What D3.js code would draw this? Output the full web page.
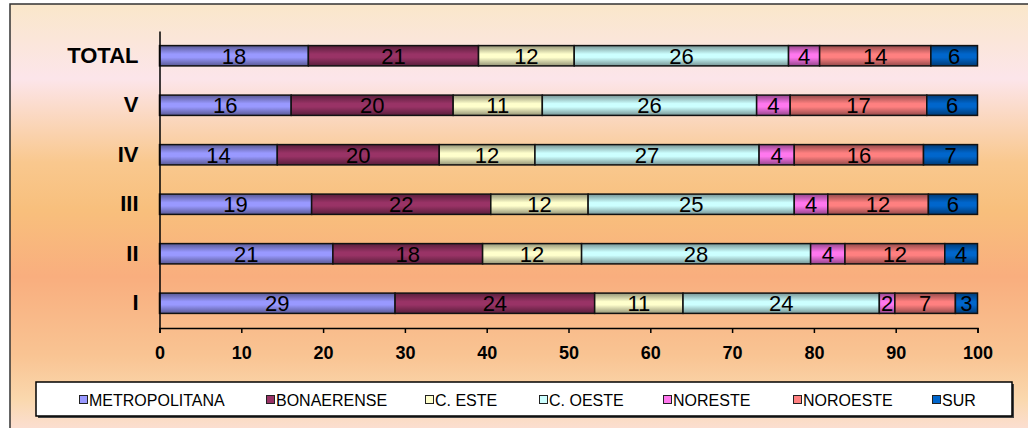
<!DOCTYPE html>
<html><head><meta charset="utf-8">
<script src="https://cdn.jsdelivr.net/npm/d3@7"></script>
<style>html,body{margin:0;padding:0;background:#fff;}svg{display:block;}</style>
</head><body>
<svg id="chart" width="1028" height="428"></svg>
<script>
const categories = ["TOTAL","V","IV","III","II","I"];
const seriesNames = ["METROPOLITANA","BONAERENSE","C. ESTE","C. OESTE","NORESTE","NOROESTE","SUR"];
const seriesColors = ["#9999FF","#993366","#FFFFCC","#CCFFFF","#FF77EE","#FF8080","#0066CC"];
const metropolitana = [18.2,16.1,14.4,18.6,21.2,28.8];
const bonaerense    = [20.8,19.8,19.8,21.9,18.3,24.4];
const cEste         = [11.7,10.9,11.7,11.9,12.1,10.8];
const cOeste        = [26.2,26.2,27.4,25.2,28.0,24.0];
const noreste       = [3.8,4.1,4.3,4.1,4.2,1.9];
const noroeste      = [13.6,16.7,15.8,12.3,12.2,7.4];
const sur           = [5.7,6.2,6.6,6.0,4.0,2.7];
const xTicks = [0,10,20,30,40,50,60,70,80,90,100];

const seriesValues = [metropolitana,bonaerense,cEste,cOeste,noreste,noroeste,sur];
const rows = categories.map((c,i)=>{const o={cat:c}; seriesNames.forEach((s,j)=>o[s]=seriesValues[j][i]); return o;});
const stacked = d3.stack().keys(seriesNames)(rows);

const svg = d3.select("#chart");
const defs = svg.append("defs");

// background gradient
const bg = defs.append("linearGradient").attr("id","bg").attr("x1",0).attr("y1",0).attr("x2",0).attr("y2",1);
[[0,"#FAE7CA"],[0.17,"#FCE5EA"],[0.36,"#F9C88E"],[0.47,"#F8BF7C"],[0.62,"#F9AE7E"],[0.8,"#F9C493"],[0.9,"#FAD8AE"],[1,"#FCE2E4"]]
  .forEach(([o,c])=>bg.append("stop").attr("offset",o).attr("stop-color",c));

seriesColors.forEach((c,i)=>{
  const g = defs.append("linearGradient").attr("id","g"+i).attr("x1",0).attr("y1",0).attr("x2",0).attr("y2",1);
  const dark = d3.interpolateRgb(c,"#000")(0.42);
  [[0,dark],[0.42,c],[0.58,c],[1,dark]].forEach(([o,col])=>g.append("stop").attr("offset",o).attr("stop-color",col));
});

svg.append("rect").attr("x",10).attr("y",4).attr("width",1030).attr("height",440)
  .attr("fill","url(#bg)").attr("stroke","#333").attr("stroke-width",1.5);

const x = d3.scaleLinear().domain([0,100]).range([159.5,977.5]);
const y = d3.scaleBand().domain(categories).range([31,328]).paddingInner(0.59).paddingOuter(0.295);

// bars
const layer = svg.append("g").selectAll("g").data(stacked).join("g")
  .attr("fill",(d,i)=>`url(#g${i})`);
layer.selectAll("rect").data(d=>d).join("rect")
  .attr("x",d=>x(d[0])).attr("y",d=>y(d.data.cat))
  .attr("width",d=>x(d[1])-x(d[0])).attr("height",y.bandwidth())
  .attr("stroke","#111").attr("stroke-width",1.5);

// bar labels
const lab = svg.append("g").attr("font-family","Liberation Sans, Arial, sans-serif").attr("font-size",22).attr("text-anchor","middle").attr("fill","#000");
stacked.forEach(s=>{
  s.forEach(d=>{
    lab.append("text").attr("x",(x(d[0])+x(d[1]))/2).attr("y",y(d.data.cat)+y.bandwidth()/2+8)
      .text(Math.round(d[1]-d[0]));
  });
});

// axes
const xAxis = d3.axisBottom(x).tickValues(xTicks).tickSize(5).tickPadding(13).tickFormat(d3.format("d"));
const gx = svg.append("g").attr("transform","translate(0,328)").call(xAxis);
gx.select(".domain").attr("stroke","#000").attr("stroke-width",1.5);
gx.selectAll(".tick line").attr("stroke","#000").attr("stroke-width",1.5);
gx.selectAll(".tick text").attr("font-family","Liberation Sans, Arial, sans-serif").attr("font-size",18).attr("font-weight","bold").attr("fill","#000");

const yAxis = d3.axisLeft(y).tickSize(0).tickPadding(21);
const gy = svg.append("g").attr("transform","translate(159.5,0)").call(yAxis);
gy.select(".domain").attr("stroke","#000").attr("stroke-width",1.5);
gy.selectAll(".tick text").attr("font-family","Liberation Sans, Arial, sans-serif").attr("font-size",22).attr("font-weight","bold").attr("fill","#000");

// legend
svg.append("rect").attr("x",38).attr("y",384).attr("width",976).attr("height",34).attr("fill","#444");
svg.append("rect").attr("x",36).attr("y",382).attr("width",976).attr("height",34).attr("fill","#fff").attr("stroke","#000").attr("stroke-width",1.5);
const legendX = [79,266,425,539,663,793,932];
const lg = svg.append("g").selectAll("g").data(seriesNames).join("g")
  .attr("transform",(d,i)=>`translate(${legendX[i]},400)`);
lg.append("rect").attr("x",0.5).attr("y",-4.5).attr("width",8).attr("height",8)
  .attr("fill",(d,i)=>seriesColors[i]).attr("stroke","#222").attr("stroke-width",1);
lg.append("text").attr("x",10).attr("y",6).attr("font-family","Liberation Sans, Arial, sans-serif").attr("font-size",16).attr("fill","#000").text(d=>d);
</script>
</body></html>
